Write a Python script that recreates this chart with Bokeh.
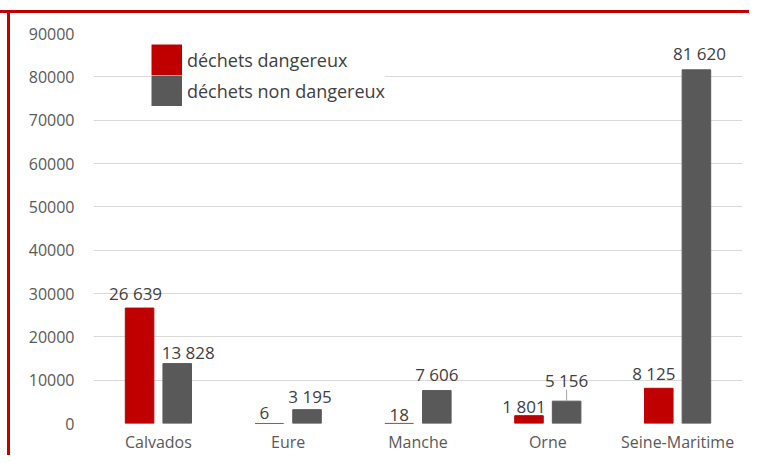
from bokeh.plotting import figure
from bokeh.models import (ColumnDataSource, FactorRange, FixedTicker, NumeralTickFormatter,
                          Label, Legend, LegendItem, Range1d)
from bokeh.transform import dodge
from bokeh.core.properties import value
from bokeh.embed import file_html
from bokeh.resources import INLINE

# ---------------- data ----------------
title_text = "Exportations"
departements = ["Calvados", "Eure", "Manche", "Orne", "Seine-Maritime"]
series_names = ["déchets dangereux", "déchets non dangereux"]
dangereux = [26639, 6, 18, 1801, 8125]
non_dangereux = [13828, 3195, 7606, 5156, 81620]
y_ticks = [0, 10000, 20000, 30000, 40000, 50000, 60000, 70000, 80000, 90000]

# ---------------- style ----------------
RED = "#c00000"
GRAY = "#595959"
TXT = "#404040"
AX = "#595959"
FONT = "Open Sans"

# label nudges (screen px), as in the reference picture
d_dx = [-4, -5, 0, -5, -5]
d_dy = [-15, -10, -8, -9, -15]
nd_dx = [11, 3, 0, 0, 3]
nd_dy = [-11, -13, -16, -21, -16]


def fmt(v):
    return f"{v:,}".replace(",", " ")


src = ColumnDataSource(dict(
    dep=departements, d=dangereux, nd=non_dangereux,
    d_lbl=[fmt(v) for v in dangereux], nd_lbl=[fmt(v) for v in non_dangereux],
    d_dx=d_dx, d_dy=d_dy, nd_dx=nd_dx, nd_dy=nd_dy,
))

W, H = 749, 455
FL, FT, FR, FB = 93, 33, 742, 423   # frame edges on the canvas
p = figure(x_range=FactorRange(*departements), y_range=Range1d(0, 90000),
           width=W, height=H, output_backend="svg", toolbar_location=None,
           min_border_left=FL, min_border_right=W - FR, min_border_top=FT, min_border_bottom=H - FB,
           background_fill_color="white", border_fill_color="white", border_fill_alpha=0,
           outline_line_color=None)

# red frame of the slide (top + left edges), drawn as inset shadows behind the canvas
p.styles = {"box-shadow": ", ".join([
    "inset 0 10px 0 0 #ffffff",
    f"inset 0 13px 0 0 {RED}",
    "inset 7px 0 0 0 #ffffff",
    f"inset 10px 0 0 0 {RED}",
])}

OFF = 0.145
BW = 0.22
p.vbar(x=dodge("dep", -OFF, range=p.x_range), top="d", width=BW, source=src,
       fill_color=RED, line_color=RED, line_width=1)
p.vbar(x=dodge("dep", OFF, range=p.x_range), top="nd", width=BW, source=src,
       fill_color=GRAY, line_color=GRAY, line_width=1)

p.text(x=dodge("dep", -OFF, range=p.x_range), y="d", text="d_lbl", x_offset="d_dx", y_offset="d_dy",
       text_align="center", text_baseline="alphabetic", text_font=value(FONT),
       text_font_size="17px", text_color=TXT, source=src)
p.text(x=dodge("dep", OFF, range=p.x_range), y="nd", text="nd_lbl", x_offset="nd_dx", y_offset="nd_dy",
       text_align="center", text_baseline="alphabetic", text_font=value(FONT),
       text_font_size="17px", text_color=TXT, source=src)

# leader line for the Orne non-dangerous label
px_per_unit = (FB - FT) / 90000
p.segment(x0=dodge("x", OFF, range=p.x_range), x1=dodge("x", OFF, range=p.x_range), y0="y0", y1="y1",
          source=ColumnDataSource(dict(x=[departements[3]], y0=[non_dangereux[3]],
                                       y1=[non_dangereux[3] + 11.5 / px_per_unit])),
          line_color="#a6a6a6", line_width=1)

# axes & grid
p.xgrid.grid_line_color = None
p.ygrid.grid_line_color = "#d9d9d9"
p.ygrid.grid_line_width = 1
p.yaxis.ticker = FixedTicker(ticks=y_ticks)
p.yaxis.formatter = NumeralTickFormatter(format="0")
for ax in (p.xaxis[0], p.yaxis[0]):
    ax.axis_line_color = None
    ax.major_tick_line_color = None
    ax.minor_tick_line_color = None
    ax.major_tick_out = 0
    ax.major_tick_in = 0
    ax.major_label_text_font = FONT
    ax.major_label_text_font_size = "16px"
    ax.major_label_text_color = AX
p.yaxis.major_label_standoff = 19
p.xaxis.major_label_standoff = 7

# legend: square swatches touching each other (thick line glyphs with no visible data)
SW = 31
nan = float("nan")
lg_d = p.line(x=[departements[0]] * 2, y=[nan, nan], line_color=RED, line_width=SW)
lg_nd = p.line(x=[departements[0]] * 2, y=[nan, nan], line_color=GRAY, line_width=SW)
legend = Legend(items=[LegendItem(label=series_names[0], renderers=[lg_d]),
                       LegendItem(label=series_names[1], renderers=[lg_nd])],
                location=(58, 317), orientation="vertical",
                glyph_width=SW, glyph_height=SW, spacing=0, padding=7, margin=0,
                label_standoff=5, label_text_font=FONT, label_text_font_size="18px",
                label_text_color=TXT, border_line_color=None,
                background_fill_color="white", background_fill_alpha=1)
p.add_layout(legend)

# title, cut off at the top of the picture as in the reference
p.add_layout(Label(x=385 - FL, y=FB - 6, x_units="screen", y_units="screen", text=title_text,
                   text_align="center", text_baseline="alphabetic", text_font=FONT,
                   text_font_style="bold", text_font_size="28px", text_color=RED))

open("out.html", "w").write(file_html(p, INLINE))
